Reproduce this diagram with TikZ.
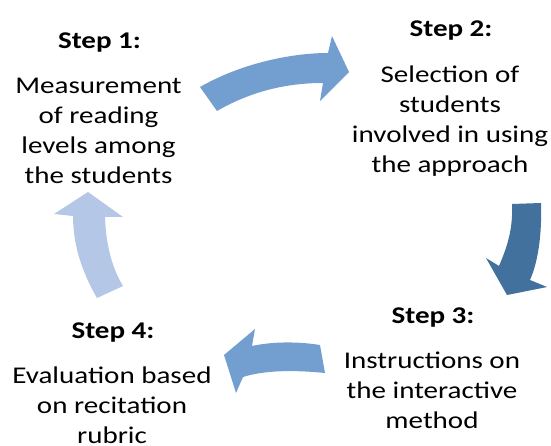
\documentclass[tikz,border=0pt]{standalone}
\usepackage{graphicx}
\usepackage{fontspec}
\setmainfont{Carlito}
\definecolor{midblue}{HTML}{729FCF}
\definecolor{darkblue}{HTML}{41719C}
\definecolor{lightblue}{HTML}{B4C7E7}
\tikzset{
  steplabel/.style={anchor=base, inner sep=0pt, font=\fontsize{24}{30}\selectfont\bfseries},
  bodytext/.style={anchor=base, inner sep=0pt, font=\fontsize{24}{30}\selectfont},
  cyclearrow/.style={draw=none}
}
\newcommand{\blines}[1]{\scalebox{1.21}[1]{\begin{tabular}[t]{@{}c@{}}#1\end{tabular}}}
\newcommand{\hstr}[1]{\scalebox{1.21}[1]{#1}}
\begin{document}
\begin{tikzpicture}[x=1pt,y=-1pt]
\useasboundingbox (0,0) rectangle (551,446);
% arrows
\fill[cyclearrow, midblue] (200,87) .. controls (240,64) and (290,53) .. (328,53) -- (332,36) -- (349,72) -- (320,101) -- (323,83) .. controls (285,83) and (250,92) .. (217,111) -- cycle;
\fill[cyclearrow, darkblue] (512,204) -- (541,203) .. controls (542,235) and (538,262) .. (530,280) -- (547,287) -- (507,295) -- (486,258) -- (499,266) .. controls (508,245) and (513,228) .. (512,204) -- cycle;
\fill[cyclearrow, midblue] (320,345) .. controls (295,341) and (270,342) .. (252,346) -- (255,329) -- (224,355) -- (236,393) -- (243,377) .. controls (265,370) and (295,370) .. (325,373) -- cycle;
\fill[cyclearrow, lightblue] (88,192) -- (123,217) -- (105,217) .. controls (106,245) and (112,268) .. (123,286) -- (97,298) .. controls (82,272) and (73,245) .. (73,216) -- (54,214) -- cycle;
% texts
\node[steplabel] (s1) at (99.5,48.3) {\hstr{Step 1:}};
\node[bodytext] (b1) at (98.5,93.3) {\blines{Measurement\\of reading\\levels among\\the students}};
\node[steplabel] (s2) at (451,37) {\hstr{Step 2:}};
\node[bodytext] (b2) at (450,82.5) {\blines{Selection of\\students\\involved in using\\the approach}};
\node[steplabel] (s3) at (433,323.3) {\hstr{Step 3:}};
\node[bodytext] (b3) at (432,368.3) {\blines{Instructions on\\the interactive\\method}};
\node[steplabel] (s4) at (113,338) {\hstr{Step 4:}};
\node[bodytext] (b4) at (112,383) {\blines{Evaluation based\\on recitation\\rubric}};
\end{tikzpicture}
\end{document}
